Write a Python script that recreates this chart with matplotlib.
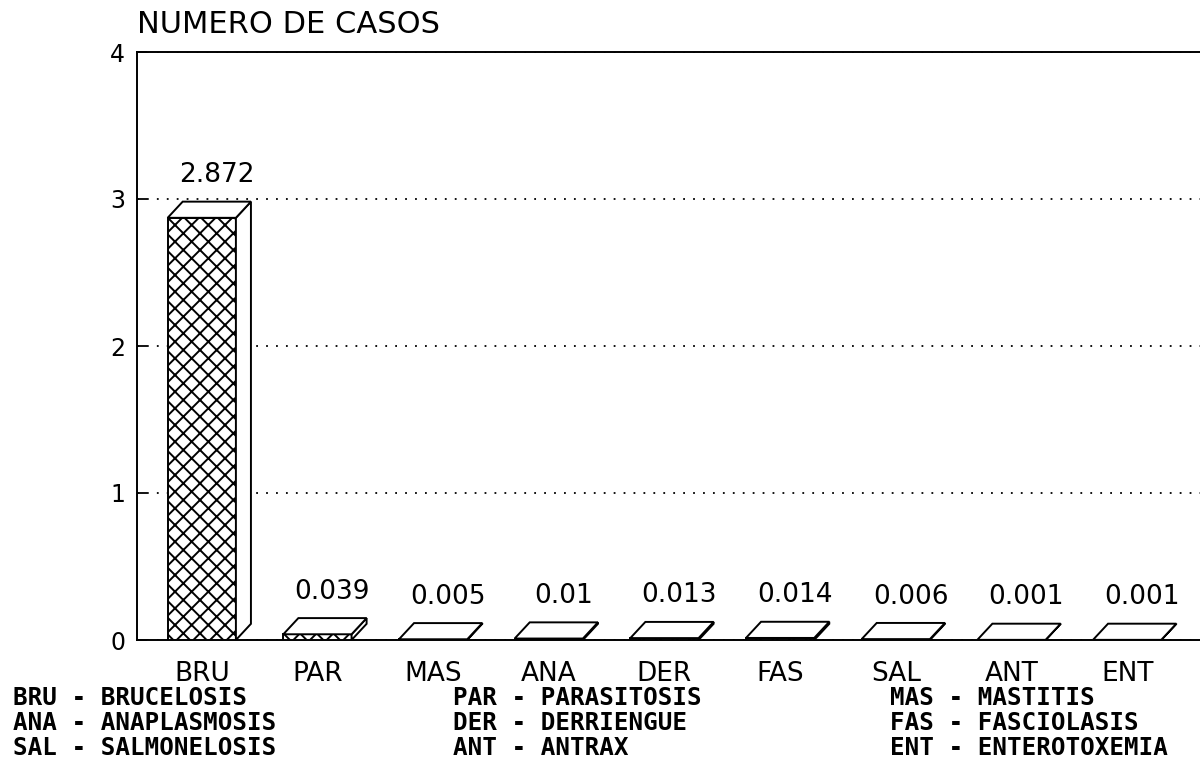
import matplotlib
matplotlib.use("Agg")
import matplotlib.pyplot as plt
from matplotlib.patches import Polygon
import numpy as np

# data
codes = ["BRU", "PAR", "MAS", "ANA", "DER", "FAS", "SAL", "ANT", "ENT"]
values = [2.872, 0.039, 0.005, 0.01, 0.013, 0.014, 0.006, 0.001, 0.001]
names = ["BRUCELOSIS", "PARASITOSIS", "MASTITIS",
         "ANAPLASMOSIS", "DERRIENGUE", "FASCIOLASIS",
         "SALMONELOSIS", "ANTRAX", "ENTEROTOXEMIA"]
yticks = [0, 1, 2, 3, 4]
title = "NUMERO DE CASOS"

plt.rcParams['hatch.linewidth'] = 1.4
plt.rcParams['font.family'] = 'DejaVu Sans'

fig = plt.figure(figsize=(12, 7.59), dpi=100, facecolor='white')
ax = fig.add_axes([137 / 1200, 119 / 759, 1 - 137 / 1200, 588 / 759])

x = np.arange(len(codes))
w = 0.59      # front face width
dx = 0.13     # depth offset (x, data units)
dy = 0.11     # depth offset (y, data units)
lw = 1.4

ax.bar(x, values, width=w, facecolor='white', edgecolor='black',
       hatch='xx', linewidth=lw, zorder=3)

for xi, v in zip(x, values):
    x0 = xi - w / 2
    x1 = xi + w / 2
    top = Polygon([(x0, v), (x0 + dx, v + dy), (x1 + dx, v + dy), (x1, v)],
                  closed=True, facecolor='white', edgecolor='black', lw=lw, zorder=3)
    side = Polygon([(x1, 0), (x1 + dx, dy), (x1 + dx, v + dy), (x1, v)],
                   closed=True, facecolor='white', edgecolor='black', lw=lw, zorder=3)
    ax.add_patch(side)
    ax.add_patch(top)
    ax.annotate(str(v), xy=(xi + dx, v + dy), xytext=(0, 14),
                textcoords='offset points', ha='center', va='baseline',
                fontsize=19, zorder=4)

ax.set_xlim(-0.56, 8.63)
ax.set_ylim(0, 4)
ax.set_yticks(yticks)
ax.set_yticklabels([str(t) for t in yticks])
ax.set_xticks(x)
ax.set_xticklabels(codes)
ax.tick_params(axis='x', length=0, pad=15, labelsize=19)
ax.tick_params(axis='y', direction='in', length=7, width=1.3, pad=8.5, labelsize=17)

ax.yaxis.grid(True, linestyle=(0, (1, 4.5)), color='black', linewidth=1.3)
ax.set_axisbelow(True)
ax.spines['right'].set_visible(False)
for s in ['left', 'top', 'bottom']:
    ax.spines[s].set_linewidth(lw)

fig.text(137 / 1200, 1 - 33 / 759, title, fontsize=22, ha='left', va='baseline')

# abbreviation key below the chart
col_x = [13, 453, 890]
row_y = [705, 730, 755]
for i, (c, n) in enumerate(zip(codes, names)):
    fig.text(col_x[i % 3] / 1200, 1 - row_y[i // 3] / 759, c + " - " + n,
             family='DejaVu Sans Mono', fontweight='bold', fontsize=17.5,
             ha='left', va='baseline')

fig.savefig("out.png", dpi=100, facecolor='white')
